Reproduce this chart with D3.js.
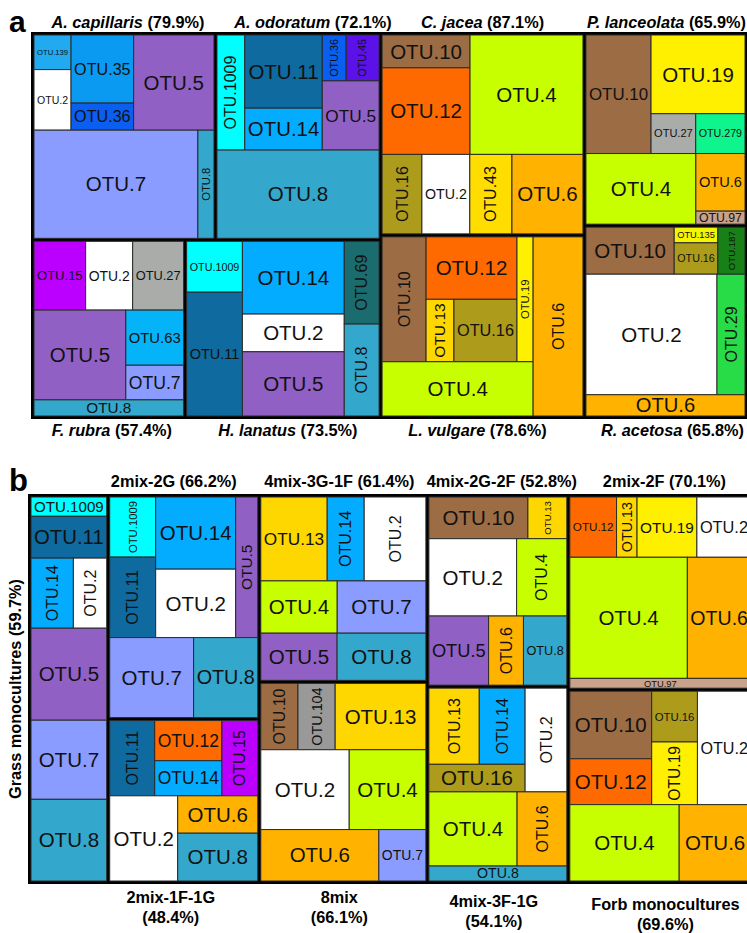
<!DOCTYPE html>
<html>
<head>
<meta charset="utf-8">
<script src="https://cdn.jsdelivr.net/npm/d3@7.9.0/dist/d3.min.js"></script>
<style>
  body { margin: 0; background: #fff; }
  svg { display: block; font-family: Arial, "Liberation Sans", sans-serif; }
</style>
</head>
<body>
<svg id="chart" width="747" height="933"></svg>
<script>
// split helpers: H = side by side, V = stacked; leaf = [OTU, relative abundance %]
const H = (...kids) => ({ dir: "h", kids });
const V = (...kids) => ({ dir: "v", kids });

// ---- panel a: species monocultures ----
const capillaris = V(
  H(V(["OTU.139", 2.8], ["OTU.2", 4.9]), V(["OTU.35", 9.3], ["OTU.36", 3.7]), ["OTU.5", 16.7]),
  H(["OTU.7", 38.7], ["OTU.8", 3.8]));
const odoratum = V(
  H(["OTU.1009", 7.0], V(["OTU.11", 12.4], ["OTU.14", 7.1]), V(H(["OTU.36", 2.4], ["OTU.45", 3.3]), ["OTU.5", 8.6])),
  ["OTU.8", 31.3]);
const rubra = V(
  H(["OTU.15", 7.8], ["OTU.2", 7.1], ["OTU.27", 7.7]),
  H(["OTU.5", 18.1], V(["OTU.63", 7.0], ["OTU.7", 4.4])),
  ["OTU.8", 5.3]);
const lanatus = H(
  V(["OTU.1009", 6.2], ["OTU.11", 15.1]),
  V(["OTU.14", 16.2], ["OTU.2", 8.4], ["OTU.5", 14.3]),
  V(["OTU.69", 6.3], ["OTU.8", 7.0]));
const jacea = V(
  H(V(["OTU.10", 6.3], ["OTU.12", 16.6]), ["OTU.4", 29.4]),
  H(["OTU.16", 6.9], ["OTU.2", 8.3], ["OTU.43", 7.3], ["OTU.6", 12.3]));
const vulgare = H(
  V(H(["OTU.10", 12.0], V(["OTU.12", 12.4], H(["OTU.13", 3.8], ["OTU.16", 8.6])), ["OTU.19", 4.4]), ["OTU.4", 17.9]),
  ["OTU.6", 19.5]);
const lanceolata = V(
  H(["OTU.10", 16.9], V(["OTU.19", 16.2], H(["OTU.27", 3.9], ["OTU.279", 4.3]))),
  H(["OTU.4", 17.0], V(["OTU.6", 6.2], ["OTU.97", 1.4])));
const acetosa = V(
  H(["OTU.10", 9.1], V(["OTU.135", 1.5], ["OTU.16", 3.0]), ["OTU.187", 2.8]),
  H(["OTU.2", 34.6], ["OTU.29", 7.4]),
  ["OTU.6", 7.4]);

const speciesA = ["A. capillaris", "A. odoratum", "F. rubra", "H. lanatus", "C. jacea", "L. vulgare", "P. lanceolata", "R. acetosa"];
const coverA = [79.9, 72.1, 57.4, 73.5, 87.1, 78.6, 65.9, 65.8];

// ---- panel b: mixtures ----
const grassMono = V(["OTU.1009", 3.0], ["OTU.11", 6.5], H(["OTU.14", 6.1], ["OTU.2", 4.8]), ["OTU.5", 14.3], ["OTU.7", 12.3], ["OTU.8", 12.7]);
const mix2G = V(
  H(V(["OTU.1009", 5.6], ["OTU.11", 7.5]), V(["OTU.14", 11.7], ["OTU.2", 11.1]), ["OTU.5", 6.3]),
  H(["OTU.7", 13.6], ["OTU.8", 10.4]));
const mix1F1G = V(
  H(["OTU.11", 6.9], V(["OTU.12", 5.5], ["OTU.14", 4.8]), ["OTU.15", 5.5]),
  H(["OTU.2", 11.8], V(["OTU.6", 6.1], ["OTU.8", 7.8])));
const mix3G1F = V(
  H(["OTU.13", 11.3], ["OTU.14", 6.3], ["OTU.2", 10.5]),
  H(["OTU.4", 8.1], ["OTU.7", 9.4]),
  H(["OTU.5", 7.3], ["OTU.8", 8.5]));
const mix8 = V(
  H(["OTU.10", 5.0], ["OTU.104", 5.0], ["OTU.13", 12.2]),
  H(["OTU.2", 14.3], ["OTU.4", 12.4]),
  H(["OTU.6", 12.3], ["OTU.7", 4.9]));
const mix2G2F = V(
  H(["OTU.10", 8.4], ["OTU.13", 3.3]),
  H(["OTU.2", 13.8], ["OTU.4", 7.9]),
  H(["OTU.5", 8.4], ["OTU.6", 4.9], ["OTU.8", 6.1]));
const mix3F1G = V(
  H(V(H(["OTU.13", 7.8], ["OTU.14", 7.1]), ["OTU.16", 5.4]), ["OTU.2", 8.8]),
  H(["OTU.4", 13.3], ["OTU.6", 7.5]),
  ["OTU.8", 4.2]);
const mix2F = V(
  H(["OTU.12", 5.7], ["OTU.13", 2.5], ["OTU.19", 7.3], ["OTU.2", 6.6]),
  H(["OTU.4", 28.8], ["OTU.6", 15.6]),
  ["OTU.97", 3.6]);
const forbMono = V(
  H(V(["OTU.10", 11.2], ["OTU.12", 7.6]), V(["OTU.16", 4.7], ["OTU.19", 5.8]), ["OTU.2", 12.3]),
  H(["OTU.4", 16.9], ["OTU.6", 11.1]));

const groupsB = ["Grass monocultures", "2mix-2G", "2mix-1F-1G", "4mix-3G-1F", "8mix", "4mix-2G-2F", "4mix-3F-1G", "2mix-2F", "Forb monocultures"];
const coverB = [59.7, 66.2, 48.4, 61.4, 66.1, 52.8, 54.1, 70.1, 69.6];

// OTU colours
const otuIds = ["OTU.2", "OTU.4", "OTU.5", "OTU.6", "OTU.7", "OTU.8", "OTU.10", "OTU.11", "OTU.12", "OTU.13",
  "OTU.14", "OTU.15", "OTU.16", "OTU.19", "OTU.27", "OTU.29", "OTU.35", "OTU.36", "OTU.43", "OTU.45",
  "OTU.63", "OTU.69", "OTU.97", "OTU.104", "OTU.135", "OTU.139", "OTU.187", "OTU.279", "OTU.1009"];
const otuColors = ["#ffffff", "#c8ff00", "#9160c4", "#ffb300", "#8a9cff", "#33a8cc", "#9c6c44", "#0f6aa0", "#ff6a00", "#ffd700",
  "#04acff", "#bb00ff", "#ad9b1c", "#fff000", "#a9aca9", "#27dc47", "#0b9af2", "#0a5ff0", "#ffdd00", "#5a12e8",
  "#05b3f9", "#1b6c6e", "#c9a28c", "#999999", "#f3f600", "#22aaf0", "#178017", "#0ff58d", "#00ffff"];
const color = d3.scaleOrdinal().domain(otuIds).range(otuColors);

// labels written bottom-to-top
const vertical = {
  "A. capillaris": ["OTU.8"],
  "A. odoratum": ["OTU.1009", "OTU.36", "OTU.45"],
  "H. lanatus": ["OTU.69", "OTU.8"],
  "C. jacea": ["OTU.16", "OTU.43"],
  "L. vulgare": ["OTU.10", "OTU.13", "OTU.19", "OTU.6"],
  "R. acetosa": ["OTU.187", "OTU.29"],
  "Grass monocultures": ["OTU.14", "OTU.2"],
  "2mix-2G": ["OTU.1009", "OTU.11", "OTU.5"],
  "2mix-1F-1G": ["OTU.11", "OTU.15"],
  "4mix-3G-1F": ["OTU.14", "OTU.2"],
  "8mix": ["OTU.10", "OTU.104"],
  "4mix-2G-2F": ["OTU.13", "OTU.4", "OTU.6"],
  "4mix-3F-1G": ["OTU.13", "OTU.14", "OTU.2", "OTU.6"],
  "2mix-2F": ["OTU.13"],
  "Forb monocultures": ["OTU.19"]
};
// small nudges of the panel titles [dx, dy]
const titleNudge = {
  "A. capillaris": [4, 0], "A. odoratum": [15, 0], "F. rubra": [3, 0], "H. lanatus": [5, 0],
  "C. jacea": [0, 0], "L. vulgare": [-5, 0], "P. lanceolata": [1, 0], "R. acetosa": [7, 0],
  "2mix-2G": [-10, 0], "4mix-3G-1F": [-4, 0], "4mix-2G-2F": [4, 0], "2mix-2F": [4, 0],
  "2mix-1F-1G": [-13, 0], "8mix": [-4, 0], "4mix-3F-1G": [-4, 4], "Forb monocultures": [5, 7]
};
const titleSize = 16.3;

[capillaris, odoratum, rubra, lanatus, jacea, vulgare, lanceolata, acetosa].forEach((p, i) => {
  p.title = speciesA[i]; p.cover = coverA[i]; p.italic = true;
});
[grassMono, mix2G, mix1F1G, mix3G1F, mix8, mix2G2F, mix3F1G, mix2F, forbMono].forEach((p, i) => {
  p.title = groupsB[i]; p.cover = coverB[i];
});

const layoutA = H(V(H(capillaris, odoratum), H(rubra, lanatus)), H(V(jacea, vulgare), V(lanceolata, acetosa)));
const layoutB = H(grassMono, V(mix2G, mix1F1G), V(mix3G1F, mix8), V(mix2G2F, mix3F1G), V(mix2F, forbMono));

const svg = d3.select("#chart");

function tile(node, x0, y0, x1, y1) {
  (node.data.dir === "h" ? d3.treemapDice : d3.treemapSlice)(node, x0, y0, x1, y1);
}

function drawBlock(tree, x, y, w, h, topBase, bottomBase) {
  const root = d3.hierarchy(tree, d => d.kids).sum(d => Array.isArray(d) ? d[1] : 0);
  d3.treemap()
    .size([w, h])
    .tile(tile)
    .paddingOuter(n => n.depth === 0 ? 3 : 0)
    .paddingInner(n => n.ancestors().some(a => a.data.title) ? 0 : 3)(root);

  const g = svg.append("g").attr("transform", `translate(${x},${y})`);
  g.append("rect").attr("width", w).attr("height", h).attr("fill", "#000");

  const cell = g.selectAll("g.cell")
    .data(root.leaves())
    .join("g")
    .attr("class", "cell")
    .attr("transform", d => `translate(${d.x0},${d.y0})`);

  cell.append("rect")
    .attr("width", d => d.x1 - d.x0)
    .attr("height", d => d.y1 - d.y0)
    .attr("fill", d => color(d.data[0]))
    .attr("stroke", "#2b2b2b")
    .attr("stroke-width", 1);

  cell.each(function(d) {
    const cw = d.x1 - d.x0, ch = d.y1 - d.y0;
    const panel = d.ancestors().find(a => a.data.title);
    const rot = (vertical[panel.data.title] || []).includes(d.data[0]);
    const t = d3.select(this).append("text")
      .attr("font-size", 10)
      .attr("fill", "#111")
      .text(d.data[0]);
    const len10 = t.node().getComputedTextLength();
    const along = rot ? ch : cw, across = rot ? cw : ch;
    const fs = rot
      ? Math.min(16, 10 * (along - 8) / len10, across * 0.7)
      : Math.min(20.5, 10 * (along - 6) / len10, across * 0.95);
    t.attr("font-size", fs)
      .attr("text-anchor", "middle")
      .attr("dy", "0.35em")
      .attr("transform", `translate(${cw / 2},${ch / 2})` + (rot ? " rotate(-90)" : ""));
  });

  // panel titles
  root.descendants().filter(n => n.data.title).forEach(n => {
    const p = n.data;
    const [dx, dy] = titleNudge[p.title] || [0, 0];
    const cx = x + (n.x0 + n.x1) / 2 + dx;
    if (n.x1 - n.x0 < 90 && n.y1 - n.y0 > h * 0.8) {
      // full-height column: label runs up the left side
      svg.append("text")
        .attr("transform", `translate(21,${y + (n.y0 + n.y1) / 2}) rotate(-90)`)
        .attr("text-anchor", "middle")
        .attr("font-size", titleSize).attr("font-weight", "bold")
        .text(`${p.title} (${p.cover}%)`);
      return;
    }
    const atTop = n.y0 < h / 3;
    if (p.italic) {
      const t = svg.append("text")
        .attr("x", cx).attr("y", (atTop ? topBase : bottomBase) + dy)
        .attr("text-anchor", "middle")
        .attr("font-size", titleSize).attr("font-weight", "bold");
      t.append("tspan").attr("font-style", "italic").text(p.title);
      t.append("tspan").text(` (${p.cover}%)`);
    } else if (atTop) {
      svg.append("text")
        .attr("x", cx).attr("y", topBase + dy)
        .attr("text-anchor", "middle")
        .attr("font-size", titleSize).attr("font-weight", "bold")
        .text(`${p.title} (${p.cover}%)`);
    } else {
      const t = svg.append("text")
        .attr("text-anchor", "middle")
        .attr("font-size", titleSize).attr("font-weight", "bold");
      t.append("tspan").attr("x", cx).attr("y", bottomBase + dy).text(p.title);
      t.append("tspan").attr("x", cx).attr("y", bottomBase + dy + 19.5).text(`(${p.cover}%)`);
    }
  });
}

drawBlock(layoutA, 31, 32, 717, 387, 28, 436);
drawBlock(layoutB, 28, 494, 726, 390, 487, 903);

svg.append("text").attr("x", 9).attr("y", 32)
  .attr("font-size", 30).attr("font-weight", "bold").text("a");
svg.append("text").attr("x", 9).attr("y", 491)
  .attr("font-size", 31).attr("font-weight", "bold").text("b");
</script>
</body>
</html>
